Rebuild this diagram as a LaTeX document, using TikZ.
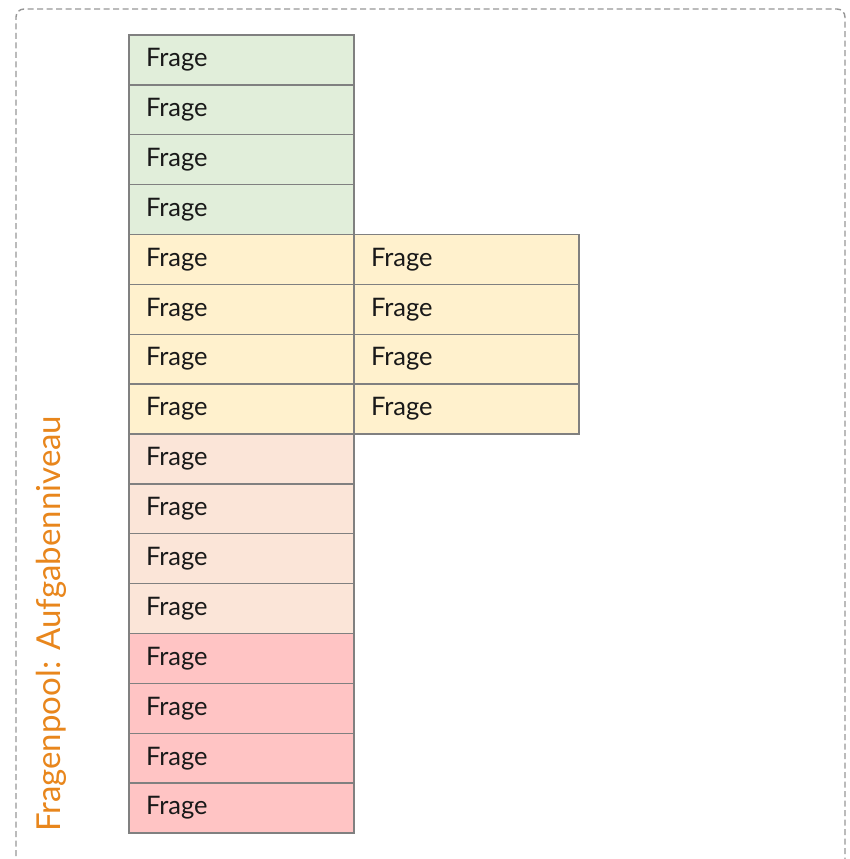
\documentclass[tikz,border=0pt]{standalone}
\usepackage{fontspec}
\setmainfont{Lato}
\definecolor{gA}{RGB}{225,238,218}
\definecolor{yA}{RGB}{255,241,205}
\definecolor{pA}{RGB}{251,229,216}
\definecolor{rA}{RGB}{255,196,196}
\definecolor{bordA}{RGB}{128,128,128}
\definecolor{frameA}{RGB}{150,150,150}
\definecolor{orangeA}{RGB}{232,134,28}
\begin{document}
\begin{tikzpicture}[x=1pt,y=-1pt,
  cell/.style={draw=bordA,line width=1.3pt,rectangle,anchor=north west,outer sep=0pt,
    text width=191pt,inner xsep=17pt,inner ysep=0pt,align=left,
    minimum height=49.875pt,font=\fontsize{25.5}{28}\selectfont,text=black!90},
  frameline/.style={draw=frameA,line width=1.4pt,dash pattern=on 6pt off 3.5pt,rounded corners=8pt}]
\useasboundingbox (0,0) rectangle (849,859);
\draw[frameline] (16,875) -- (16,9) -- (845,9) -- (845,875);
\foreach \i in {1,...,16}{
  \pgfmathsetmacro{\yy}{35+(\i-1)*49.875}
  \ifnum\i<5 \def\fc{gA}\else\ifnum\i<9 \def\fc{yA}\else\ifnum\i<13 \def\fc{pA}\else\def\fc{rA}\fi\fi\fi
  \node[cell,fill=\fc] (c\i) at (129,\yy) {Frage};
}
\foreach \i in {5,...,8}{
  \node[cell,fill=yA,anchor=north west] (r\i) at (c\i.north east) {Frage};
}
\node[rotate=90,anchor=base west,inner sep=0pt,text=orangeA,font=\fontsize{33}{36}\selectfont] (lab) at (60,832) {Fragenpool: Aufgabenniveau};
\end{tikzpicture}
\end{document}
